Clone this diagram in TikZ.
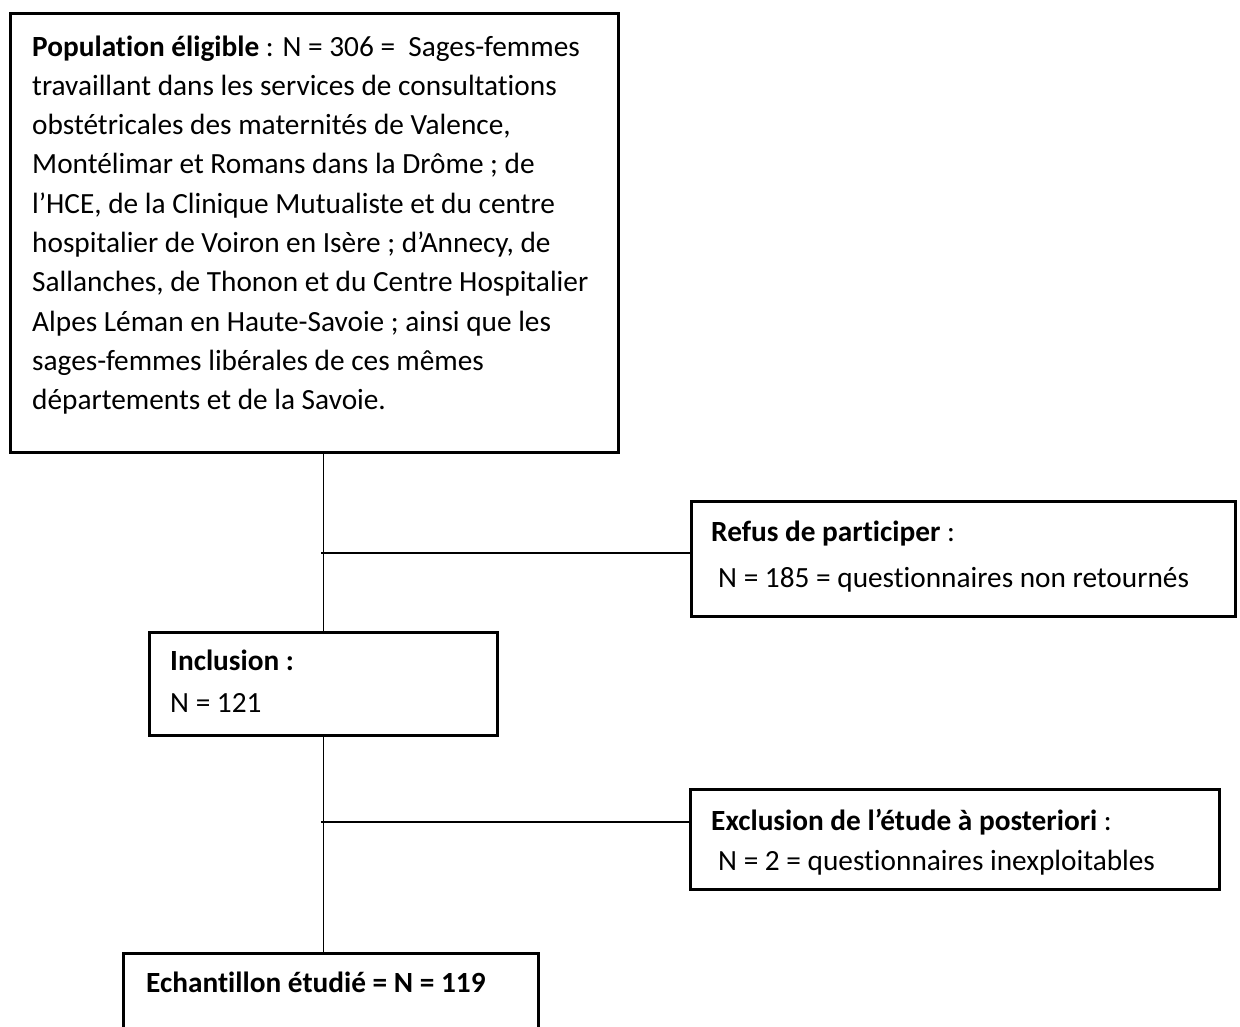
\documentclass[tikz,border=0pt]{standalone}
\usepackage{fontspec}
\setmainfont{Carlito}[Ligatures=NoCommon]
\begin{document}
\begin{tikzpicture}[x=1pt,y=-1pt,
  box/.style={draw, line width=3pt, inner sep=0pt, anchor=north west},
  txt/.style={inner sep=0pt, anchor=base west, align=left, font=\fontsize{29.3}{39.3}\selectfont},
  link/.style={line width=1.3pt}]
\useasboundingbox (0,0) rectangle (1240,1027);
\clip (0,0) rectangle (1240,1027);
% boxes
\node[box, minimum width=608pt, minimum height=438.5pt] (pop) at (8.5,12.5) {};
\node[box, minimum width=544pt, minimum height=115pt] (refus) at (690,500) {};
\node[box, minimum width=347.5pt, minimum height=103pt] (incl) at (148,631) {};
\node[box, minimum width=528.5pt, minimum height=100pt] (excl) at (689,788) {};
\node[box, minimum width=415pt, minimum height=108pt] (ech) at (122,952) {};
% texts (multi-line node: base = last line)
\node[txt] (tpop) at (32,409.7) {\textbf{Population éligible} : N = 306 = \ Sages-femmes\\
travaillant dans les services de consultations\\
obstétricales des maternités de Valence,\\
Montélimar et Romans dans la Drôme ; de\\
l’HCE, de la Clinique Mutualiste et du centre\\
hospitalier de Voiron en Isère ; d’Annecy, de\\
Sallanches, de Thonon et du Centre Hospitalier\\
Alpes Léman en Haute-Savoie ; ainsi que les\\
sages-femmes libérales de ces mêmes\\
départements et de la Savoie.};
\node[txt] (trefus1) at (711,541) {\textbf{Refus de participer} :};
\node[txt] (trefus2) at (711,587) {\hspace*{7pt}N = 185 = questionnaires non retournés};
\node[txt] (tincl1) at (170,670) {\textbf{Inclusion :}};
\node[txt] (tincl2) at (170,712) {N = 121};
\node[txt] (texcl1) at (711,830) {\textbf{Exclusion de l’étude à posteriori} :};
\node[txt] (texcl2) at (711,870) {\hspace*{7pt}N = 2 = questionnaires inexploitables};
\node[txt] (tech) at (146,992) {\textbf{Echantillon étudié = N = 119}};
% connectors
\coordinate (j1) at (321,553);
\coordinate (j2) at (321,822);
\draw[link] (pop.south -| incl.north) -- (incl.north);
\draw[link] (j1) -- (j1 -| refus.west);
\draw[link] (incl.south) -- (incl.south |- ech.north);
\draw[link] (j2) -- (j2 -| excl.west);
\end{tikzpicture}
\end{document}
